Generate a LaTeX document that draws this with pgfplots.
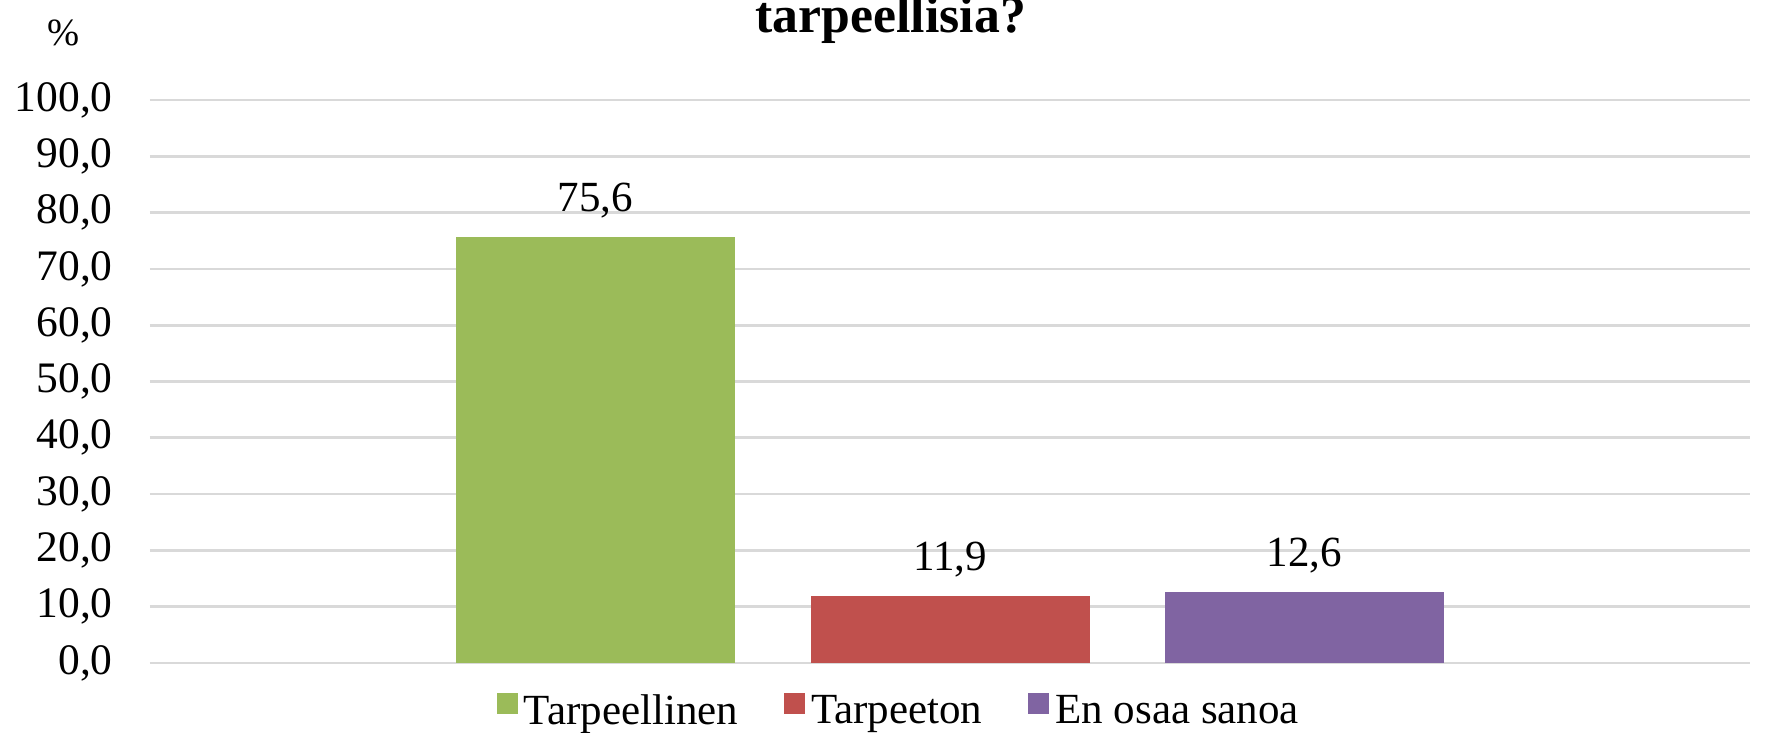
\documentclass[border=0pt]{standalone}
\usepackage{fontspec}
\setmainfont{Liberation Serif}
\usepackage{pgfplots}
\pgfplotsset{compat=1.18}
\definecolor{cgreen}{HTML}{9BBB59}
\definecolor{cred}{HTML}{C0504D}
\definecolor{cpurple}{HTML}{8064A2}
\definecolor{gridgray}{HTML}{D9D9D9}
\begin{document}
\begin{tikzpicture}
\begin{axis}[
  at={(0,0)}, anchor=south west,
  width=640pt, height=225.2pt, scale only axis,
  xmin=-0.2567, xmax=4.2567, ymin=0, ymax=100,
  ytick={0,10,...,100},
  xtick=\empty,
  ymajorgrids, grid style={color=gridgray, line width=1.1pt},
  axis line style={draw=none},
  major tick length=0pt,
  /pgf/number format/assume math mode=true,
  yticklabel={\pgfmathprintnumber[fixed,fixed zerofill,precision=1,use comma]{\tick}},
  yticklabel style={font=\fontsize{17.4}{20}\selectfont, xshift=-11.4pt},
  ybar, bar width=111.6pt, bar shift=0pt,
  nodes near coords={\pgfmathprintnumber[fixed,fixed zerofill,precision=1,use comma]{\pgfplotspointmeta}},
  nodes near coords style={font=\fontsize{17.2}{20}\selectfont, text=black, anchor=south, yshift=4pt},
  clip=false,
  legend style={at={(0.469,0)}, anchor=center, yshift=-19.2pt, draw=none,
    font=\fontsize{17.2}{20}\selectfont, column sep=0pt,
    /tikz/every even column/.append style={column sep=16.4pt}},
  legend columns=-1,
  legend image code/.code={\fill[#1] (0pt,-1pt) rectangle (8.4pt,7.4pt); \path (8.8pt,0pt);},
]
\addplot[fill=cgreen, draw=none] coordinates {(1,75.6)};
\addlegendentry{Tarpeellinen}
\addplot[fill=cred, draw=none] coordinates {(2,11.9)};
\addlegendentry{Tarpeeton}
\addplot[fill=cpurple, draw=none] coordinates {(3,12.6)};
\addlegendentry{En osaa sanoa}
\end{axis}
\node[anchor=base, font=\bfseries\fontsize{20.7}{25}\selectfont] at (296.3pt,252.4pt) {tarpeellisia?};
\node[anchor=base, font=\fontsize{15.4}{18}\selectfont] at (-34.4pt,247.2pt) {\%};
\pgfresetboundingbox
\useasboundingbox (-60pt,-27.6pt) rectangle (646pt,265.2pt);
\end{tikzpicture}
\end{document}
